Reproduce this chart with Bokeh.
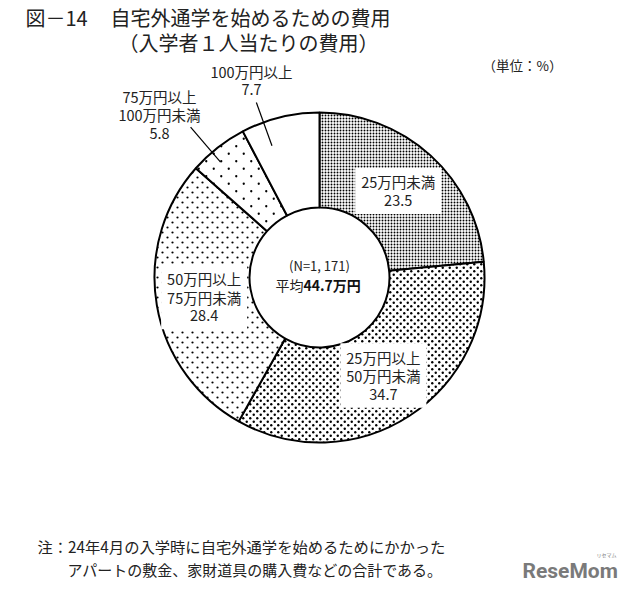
import numpy as np
from urllib.parse import quote
from bokeh.plotting import figure
from bokeh.models import Range1d, ColumnDataSource, ImageURLTexture
from bokeh.core.properties import value
from bokeh.embed import file_html
from bokeh.resources import INLINE

# ---------------- data ----------------
category_lines = [
    ["25万円未満"],
    ["25万円以上", "50万円未満"],
    ["50万円以上", "75万円未満"],
    ["75万円以上", "100万円未満"],
    ["100万円以上"],
]
shares = [23.5, 34.7, 28.4, 5.8, 7.7]
n_respondents = "(N=1, 171)"
average_label = "44.7万円"

# ---------------- styles ----------------
FONT = "Noto Sans CJK JP"
# dot textures: (tile size px, dot radius px, staggered?)
dot_styles = [(3, 0.95, False), (7, 1.2, True), (10, 1.1, True), (15, 1.15, True), None]


def dot_texture(tile, r, stagger):
    if stagger:
        dots = (f'<circle cx="{tile/4}" cy="{tile/4}" r="{r}" fill="black"/>'
                f'<circle cx="{3*tile/4}" cy="{3*tile/4}" r="{r}" fill="black"/>')
    else:
        dots = f'<circle cx="{tile/2}" cy="{tile/2}" r="{r}" fill="black"/>'
    svg = (f'<svg xmlns="http://www.w3.org/2000/svg" width="{tile}" height="{tile}" '
           f'viewBox="0 0 {tile} {tile}">{dots}</svg>')
    return ImageURLTexture(url="data:image/svg+xml;utf8," + quote(svg), repetition="repeat")


hatch_extra = {}
hatch_patterns = []
for k, st in enumerate(dot_styles):
    if st is None:
        hatch_patterns.append(" ")
    else:
        key = f"dots{k}"
        hatch_extra[key] = dot_texture(*st)
        hatch_patterns.append(key)

W, H = 624, 586
CX, CY = 327, 285          # pie centre in page pixels


def X(px):
    return px - CX


def Y(py):
    return CY - py


p = figure(width=W, height=H, output_backend="svg", toolbar_location=None,
           x_range=Range1d(8 - CX, 8 - CX + W), y_range=Range1d(CY - 8 - H, CY - 8),
           x_axis_type=None, y_axis_type=None, min_border=0)
p.outline_line_color = None
p.grid.grid_line_color = None
p.background_fill_color = "white"
p.border_fill_color = "white"

R_IN, R_OUT = 70, 165
vals = np.array(shares, dtype=float)
frac = vals / vals.sum()
cum = np.concatenate([[0.0], np.cumsum(frac)])
start = np.pi / 2 - 2 * np.pi * cum[:-1]
end = np.pi / 2 - 2 * np.pi * cum[1:]
mid = (start + end) / 2

src = ColumnDataSource(dict(start=start, end=end, hp=hatch_patterns))
p.annular_wedge(x=0, y=0, inner_radius=R_IN, outer_radius=R_OUT,
                start_angle="start", end_angle="end", direction="clock",
                source=src, fill_color="white", line_color="black", line_width=2,
                hatch_pattern="hp", hatch_extra=hatch_extra, hatch_color="black")

LINE_H = 18.5
FS = "14.5px"

# inner labels (white boxes) along mid-angle
R_LAB = 117
for i in range(3):
    lines = category_lines[i] + [f"{shares[i]:.1f}"]
    lx = R_LAB * np.cos(mid[i])
    ly = R_LAB * np.sin(mid[i])
    n = len(lines)
    bh = n * LINE_H + 9
    p.rect(x=lx, y=ly, width=86, height=bh, fill_color="white", line_color=None)
    ys = [ly + (n - 1) / 2 * LINE_H - k * LINE_H for k in range(n)]
    p.text(x=[lx] * n, y=ys, text=lines, text_font=value(FONT), text_font_size=FS,
           text_align="center", text_baseline="middle", text_color="#222222")

# outer labels with leader lines
outer_layout = {3: dict(off=2.5, r1=152, r2=198, tx=-160, ty=163),
                4: dict(off=6.0, r1=140, r2=186, tx=-68, ty=197)}
for i, lay in outer_layout.items():
    a = mid[i] + np.deg2rad(lay["off"])
    p.line(x=[lay["r1"] * np.cos(a), lay["r2"] * np.cos(a)],
           y=[lay["r1"] * np.sin(a), lay["r2"] * np.sin(a)],
           line_color="black", line_width=1.2)
    lines = category_lines[i] + [f"{shares[i]:.1f}"]
    n = len(lines)
    ys = [lay["ty"] + (n - 1) / 2 * LINE_H - k * LINE_H for k in range(n)]
    p.text(x=[lay["tx"]] * n, y=ys, text=lines, text_font=value(FONT), text_font_size=FS,
           text_align="center", text_baseline="middle", text_color="#222222")

# centre text
p.text(x=[0], y=[Y(273)], text=[n_respondents], text_font=value(FONT), text_font_size="13px",
       text_align="center", text_baseline="middle", text_color="#222222")
p.text(x=[X(283)], y=[Y(292)], text=["平均"], text_font=value(FONT), text_font_size="14px",
       text_align="left", text_baseline="middle", text_color="#222222")
p.text(x=[X(311)], y=[Y(292)], text=[average_label], text_font=value(FONT), text_font_size="14px",
       text_font_style="bold", text_align="left", text_baseline="middle", text_color="#111111")

# titles
p.text(x=[X(33)], y=[Y(25)], text=["図－14"], text_font=value(FONT), text_font_size="20px",
       text_align="left", text_baseline="middle", text_color="#222222")
p.text(x=[X(118)], y=[Y(25)], text=["自宅外通学を始めるための費用"], text_font=value(FONT),
       text_font_size="20px", text_align="left", text_baseline="middle", text_color="#222222")
p.text(x=[X(126)], y=[Y(50)], text=["（入学者１人当たりの費用）"], text_font=value(FONT),
       text_font_size="20px", text_align="left", text_baseline="middle", text_color="#222222")
p.text(x=[X(490)], y=[Y(72)], text=["（単位：%）"], text_font=value(FONT),
       text_font_size="13.5px", text_align="left", text_baseline="middle", text_color="#222222")

# note
p.text(x=[X(45)], y=[Y(553)], text=["注：24年4月の入学時に自宅外通学を始めるためにかかった"],
       text_font=value(FONT), text_font_size="15.3px", text_align="left", text_baseline="middle",
       text_color="#222222")
p.text(x=[X(75)], y=[Y(577)], text=["アパートの敷金、家財道具の購入費などの合計である。"],
       text_font=value(FONT), text_font_size="15px", text_align="left", text_baseline="middle",
       text_color="#222222")

# logo
p.text(x=[X(530)], y=[Y(578)], text=["ReseMom"], text_font=value("Roboto"),
       text_font_size="21px", text_font_style="bold", text_align="left", text_baseline="middle",
       text_color="#7a7a7a")
p.text(x=[X(614)], y=[Y(562)], text=["リセマム"], text_font=value(FONT),
       text_font_size="5px", text_align="center", text_baseline="middle", text_color="#7a7a7a")

open("out.html", "w").write(file_html(p, INLINE))
